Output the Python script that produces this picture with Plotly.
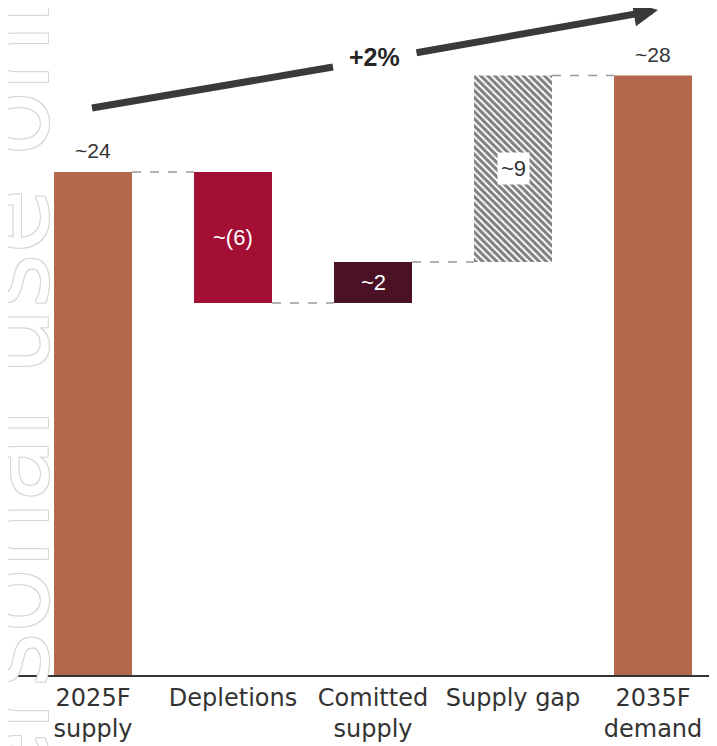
import plotly.graph_objects as go

# waterfall data
categories = ["2025F<br>supply", "Depletions", "Comitted<br>supply", "Supply gap", "2035F<br>demand"]
values = [24.0, -6.25, 1.95, 8.9, 28.6]
measures = ["total", "relative", "relative", "relative", "total"]
labels = ["~24", "~(6)", "~2", "~9", "~28"]
hatched = [False, False, False, True, False]

colors = ["#B3674B", "#A30F32", "#4A1224", "#FFFFFF", "#B3674B"]

x = list(range(len(categories)))
bar_w = 0.557

# running bases for the waterfall
bases = []
running = 0
for v, m in zip(values, measures):
    if m == "total":
        bases.append(0)
        running = v
    else:
        bases.append(running)
        running += v
tops = [b + v for b, v in zip(bases, values)]

solid = [i for i in x if not hatched[i]]
hatch = [i for i in x if hatched[i]]

fig = go.Figure()
fig.add_trace(go.Bar(
    x=solid, y=[values[i] for i in solid], base=[bases[i] for i in solid], width=bar_w,
    marker=dict(color=[colors[i] for i in solid], line=dict(width=0)),
    showlegend=False, hoverinfo="skip",
))
fig.add_trace(go.Bar(
    x=hatch, y=[values[i] for i in hatch], base=[bases[i] for i in hatch], width=bar_w,
    marker=dict(color="#FFFFFF", line=dict(width=0),
                pattern=dict(shape="\\", fgcolor="#000000", bgcolor="#FFFFFF",
                             size=5, solidity=0.6)),
    showlegend=False, hoverinfo="skip",
))

# dashed connectors
for i in range(len(x) - 1):
    lvl = tops[i]
    fig.add_trace(go.Scatter(
        x=[x[i] + bar_w / 2, x[i + 1] - bar_w / 2], y=[lvl, lvl], mode="lines",
        line=dict(color="#999999", width=1.5, dash="dash"),
        showlegend=False, hoverinfo="skip",
    ))

lab_font = "Liberation Sans"
# value labels
for i, lab in enumerate(labels):
    if measures[i] == "total":
        fig.add_annotation(x=x[i], y=tops[i], text=lab, showarrow=False, yanchor="bottom",
                           yshift=8, font=dict(size=21, color="#333333", family=lab_font))
    else:
        mid = bases[i] + values[i] / 2
        if hatched[i]:
            fig.add_annotation(x=x[i], y=mid, text=lab, showarrow=False, bgcolor="#FFFFFF",
                               borderpad=3, font=dict(size=22, color="#333333", family=lab_font))
        else:
            fig.add_annotation(x=x[i], y=mid, text=lab, showarrow=False,
                               font=dict(size=22, color="#FFFFFF", family=lab_font))

# page has 8px body margin, so work in screen pixels and shift
OFF = 8
W, H = 717 - OFF, 746 - OFF
L, B = 9, 71
pw, ph = W - L, H - B
def px(xp, yp):
    return (xp - OFF - L) / pw, (H - B - (yp - OFF)) / ph

# growth arrow
x0, y0 = px(92, 108)
x1, y1 = px(333, 67)
fig.add_shape(type="line", xref="paper", yref="paper", x0=x0, y0=y0, x1=x1, y1=y1,
              line=dict(color="#3A3A3A", width=7))
hx, hy = px(658, 10)
fig.add_annotation(xref="paper", yref="paper", x=hx, y=hy, ax=415 - 658, ay=53 - 10,
                   text="", showarrow=True, arrowhead=2, arrowsize=0.7, arrowwidth=7,
                   arrowcolor="#3A3A3A")
tx, ty = px(374, 57)
fig.add_annotation(xref="paper", yref="paper", x=tx, y=ty, text="<b>+2%</b>", showarrow=False,
                   xanchor="center", yanchor="middle",
                   font=dict(size=25, color="#262626", family="Liberation Sans"))

# watermark on the left
wx, wy = px(12, 496)
fig.add_annotation(xref="paper", yref="paper", x=wx, y=wy, text="For personal use only",
                   textangle=-90, showarrow=False, xanchor="center", yanchor="middle",
                   font=dict(size=105, color="#FFFFFF", family="DejaVu Sans",
                             shadow="1px 1px 0 #D6D6D6, -1px -1px 0 #D6D6D6, 1px -1px 0 #D6D6D6, -1px 1px 0 #D6D6D6"))

fig.update_layout(
    width=W, height=H,
    margin=dict(l=L, r=0, t=0, b=B),
    plot_bgcolor="#FFFFFF", paper_bgcolor="#FFFFFF",
    xaxis=dict(range=[-0.543, 4.457], tickvals=x, ticktext=categories,
               showgrid=False, zeroline=False, showline=True, linecolor="#333333", linewidth=2,
               ticks="", tickfont=dict(size=24, color="#333333", family="DejaVu Sans")),
    yaxis=dict(range=[0, 667 / 20.96], visible=False, showgrid=False, zeroline=False),
)

fig.write_html("out.html")
